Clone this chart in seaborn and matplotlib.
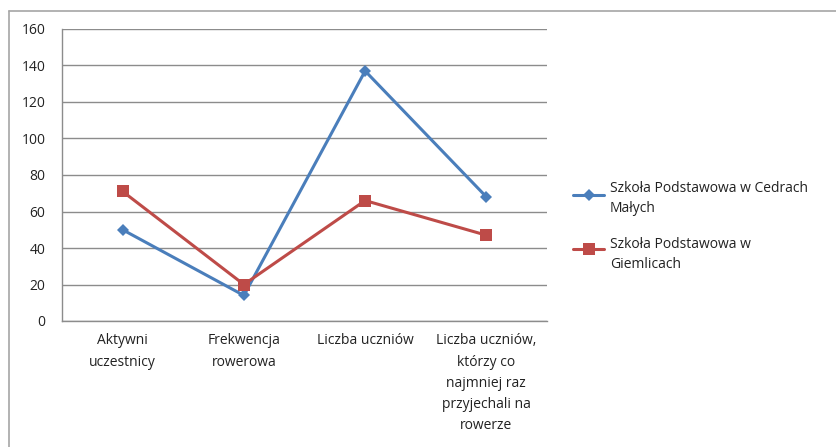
import numpy as np
import pandas as pd
import seaborn as sns
import matplotlib.pyplot as plt
from matplotlib.lines import Line2D

categories = ["Aktywni\nuczestnicy", "Frekwencja\nrowerowa", "Liczba uczniów",
              "Liczba uczniów,\nktórzy co\nnajmniej raz\nprzyjechali na\nrowerze"]
series = ["Szkoła Podstawowa w Cedrach\nMałych", "Szkoła Podstawowa w\nGiemlicach"]
cedry = [50, 14, 137, 68]
giemlice = [71, 20, 66, 47]
yticks = [0, 20, 40, 60, 80, 100, 120, 140, 160]

df = pd.DataFrame({
    "pos": list(range(4)) * 2,
    "value": cedry + giemlice,
    "school": [series[0]] * 4 + [series[1]] * 4,
})

sns.set_style("white")
plt.rcParams['font.family'] = ['Open Sans', 'DejaVu Sans']

colors = {series[0]: "#4A7EBB", series[1]: "#BE4B48"}
marks = {series[0]: "D", series[1]: "s"}
msizes = [6, 8]
fs = 10

fig = plt.figure(figsize=(8.36, 4.47), dpi=100)
ax = fig.add_axes([62/836, 1-321/447, (547-62)/836, (321-29)/447])

sns.lineplot(data=df, x="pos", y="value", hue="school", style="school",
             palette=colors, markers=marks, dashes=False, linewidth=2.2,
             markersize=7, markeredgewidth=0, ax=ax, legend=False)
for ln, ms in zip(ax.lines, msizes):
    ln.set_markersize(ms)

ax.set_xlim(-0.5, 3.5)
ax.set_ylim(0, 160)
ax.set_yticks(yticks)
ax.yaxis.grid(True, color="#8c8c8c", linewidth=1)
ax.set_axisbelow(True)
ax.set_xticks(range(4))
ax.set_xticklabels(categories, fontsize=fs, color="#222222")
for t in ax.get_xticklabels():
    t.set_linespacing(1.55)
ax.set_xticks(np.arange(-0.5, 4, 1), minor=True)
ax.tick_params(axis="x", which="major", length=0, pad=9)
ax.tick_params(axis="x", which="minor", length=5, color="#8c8c8c", width=1)
ax.tick_params(axis="y", length=4, color="#8c8c8c", width=1, labelsize=fs,
               labelcolor="#222222", pad=8)
ax.set_xlabel("")
ax.set_ylabel("")
for s in ["top", "right"]:
    ax.spines[s].set_visible(False)
for s in ["left", "bottom"]:
    ax.spines[s].set_color("#8c8c8c")
    ax.spines[s].set_linewidth(1)

# legend, Excel style: marker aligned with first text line
for s, ms, ly, ty in zip(series, msizes, [195, 249], [190, 246]):
    fig.add_artist(Line2D([573/836, 604/836], [1-ly/447, 1-ly/447], color=colors[s],
                          linewidth=2.2))
    fig.add_artist(Line2D([588.5/836], [1-ly/447], color=colors[s], marker=marks[s],
                          markersize=ms, markeredgewidth=0, linestyle="none"))
    fig.text(610/836, 1-(ty-9)/447, s, fontsize=fs, color="#222222", va="top",
             ha="left", linespacing=1.5)

# outer chart frame
fig.add_artist(Line2D([9/836, 1], [1-11/447, 1-11/447], color="#a6a6a6", linewidth=1.2))
fig.add_artist(Line2D([9/836, 9/836], [0, 1-11/447], color="#a6a6a6", linewidth=1.2))

fig.savefig("out.png", dpi=100)
